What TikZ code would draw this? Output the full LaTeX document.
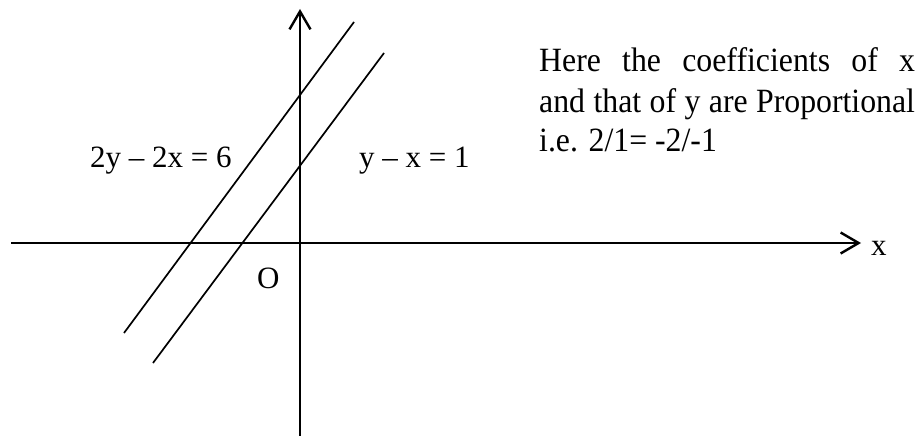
\documentclass[tikz,border=0pt]{standalone}
\usepackage{fontspec}
\setmainfont{Liberation Serif}
\usetikzlibrary{arrows.meta}
\begin{document}
\begin{tikzpicture}[x=1pt,y=-1pt,
  axis/.style={line width=2.6pt,-{Straight Barb[length=18pt,width=21pt,line width=2.4pt]}},
  graphline/.style={line width=1.7pt},
  lbl/.style={anchor=base west,inner sep=0pt,font=\fontsize{31}{38}\selectfont}]
\useasboundingbox (0,0) rectangle (919,436);
\coordinate (yb) at (300,436);
\coordinate (yt) at (300,9);
\coordinate (xl) at (11,243);
\coordinate (xr) at (861,243);
\draw[axis] (yb) -- (yt);
\draw[axis] (xl) -- (xr);
\coordinate (a1) at (124,333);
\coordinate (a2) at (354,22);
\coordinate (b1) at (153,363);
\coordinate (b2) at (384,53);
\draw[graphline] (a1) -- (a2);
\draw[graphline] (b1) -- (b2);
\node[lbl] (l1) at (90,167) {2y – 2x = 6};
\node[lbl] (l2) at (359,167) {y – x = 1};
\node[lbl] (o) at (257,288) {O};
\node[lbl] (xlab) at (871,255) {x};
\node[lbl,xscale=0.935,transform shape] (txt) at (539,72) {\parbox[t]{402pt}{\fontsize{34}{40}\selectfont Here the coefficients of x\linebreak and that of y are Proportional\linebreak i.e. 2/1= -2/-1}};
\end{tikzpicture}
\end{document}
